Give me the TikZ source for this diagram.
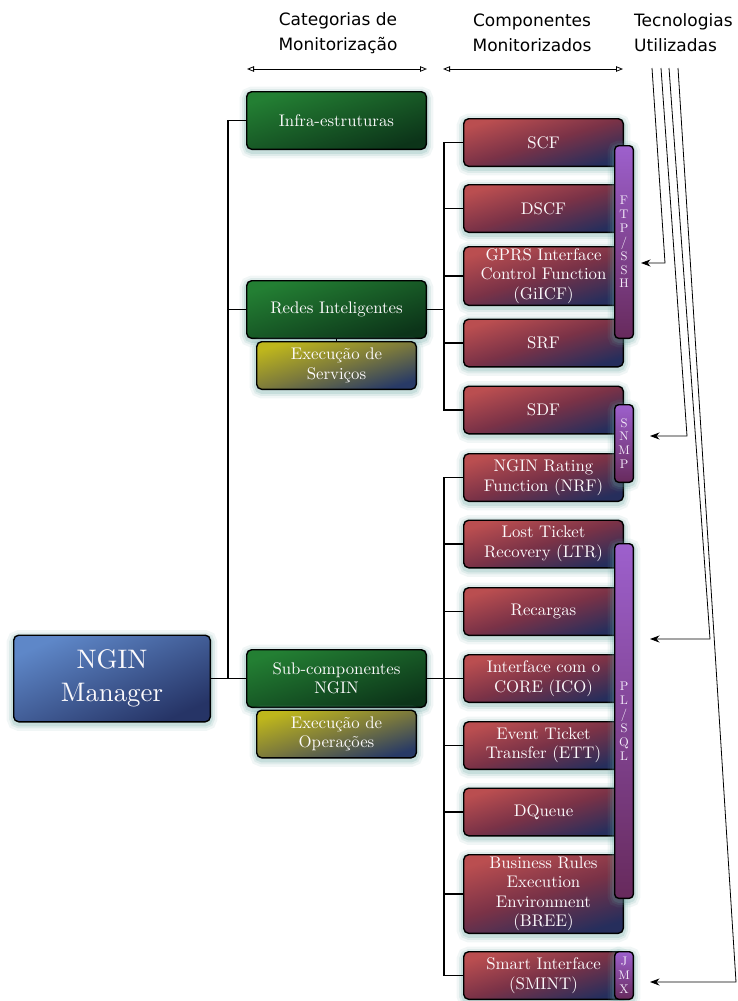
\documentclass[tikz,border=0pt]{standalone}
\usepackage{fontspec}
\newfontfamily\headfont{DejaVu Sans}
\newfontfamily\boxfont{lmroman10-regular.otf}
\usetikzlibrary{arrows.meta}

\definecolor{glow}{RGB}{95,160,156}
\definecolor{greenA}{RGB}{35,127,51}
\definecolor{greenB}{RGB}{12,52,25}
\definecolor{redA}{RGB}{186,78,80}
\definecolor{redM}{RGB}{122,50,71}
\definecolor{redB}{RGB}{38,46,92}
\definecolor{blueA}{RGB}{94,135,200}
\definecolor{blueB}{RGB}{38,52,102}
\definecolor{yelA}{RGB}{190,182,28}
\definecolor{yelM}{RGB}{124,122,60}
\definecolor{yelB}{RGB}{40,58,102}
\definecolor{purA}{RGB}{157,96,205}
\definecolor{purB}{RGB}{103,42,92}
\definecolor{boxtext}{RGB}{252,250,252}
\definecolor{bartext}{RGB}{244,236,250}

\begin{document}
\begin{tikzpicture}[x=1pt,y=-1pt,
  halo/.style={
    preaction={draw=glow, draw opacity=.09, line width=14pt, transform canvas={yshift=-2pt}},
    preaction={draw=glow, draw opacity=.13, line width=9pt, transform canvas={yshift=-2pt}},
    preaction={draw=glow, draw opacity=.18, line width=5pt, transform canvas={yshift=-2pt}}},
  box/.style={halo, draw=black, line width=1.4pt, rounded corners=5pt,
    text=boxtext, align=center, inner sep=0pt,
    font=\boxfont\fontsize{16.8}{19.5}\selectfont},
  catbox/.style={box, minimum width=179.6pt, minimum height=57.6pt,
    top color=greenA, bottom color=greenB, shading angle=18},
  actbox/.style={box, minimum width=159.6pt, minimum height=47.6pt,
    top color=yelA, bottom color=yelB, middle color=yelM, shading angle=17},
  compbox/.style={box, minimum width=159.6pt, minimum height=47.6pt,
    top color=redA, bottom color=redB, middle color=redM, shading angle=17},
  mgrbox/.style={box, minimum width=196.6pt, minimum height=86.6pt,
    top color=blueA, bottom color=blueB, shading angle=24,
    font=\boxfont\fontsize{26.8}{33}\selectfont},
  techbar/.style={box, minimum width=18.6pt, rounded corners=4pt,
    top color=purA, bottom color=purB, text=bartext,
    font=\boxfont\fontsize{12.5}{13.9}\selectfont},
  heading/.style={font=\headfont\fontsize{17}{25}\selectfont, inner sep=0pt},
  tree/.style={draw=black, line width=1.2pt},
  span/.style={draw=black, line width=0.8pt,
    {Triangle[open,length=7pt,width=5.5pt]}-{Triangle[open,length=7pt,width=5.5pt]}},
  techline/.style={draw=black, line width=0.8pt,
    -{Stealth[length=9.5pt,width=7pt]}}
]
\useasboundingbox (0,0) rectangle (737,1001);

% column headings
\node[heading, align=center] (hcat) at (338,33) {Categorias de\\Monitorização};
\node[heading, align=center] (hcomp) at (532,33) {Componentes\\Monitorizados};
\node[heading, align=left, anchor=west] (htec) at (634,33) {Tecnologias\\Utilizadas};
\coordinate (s1a) at (247,69);
\coordinate (s1b) at (427,69);
\coordinate (s2a) at (443,69);
\coordinate (s2b) at (623,69);
\draw[span] (s1a) -- (s1b);
\draw[span] (s2a) -- (s2b);

% root
\node[mgrbox] (mgr) at (112,678.5) {NGIN\\Manager};

% monitoring categories
\node[catbox] (infra) at (336.5,120.5) {Infra-estruturas};
\node[catbox] (redes) at (336.5,309.5) {Redes Inteligentes};
\node[actbox] (exserv) at (336.5,365.5) {Execução de\\Serviços};
\node[catbox] (sub) at (336.5,678.5) {Sub-componentes\\NGIN};
\node[actbox] (exop) at (336.5,734) {Execução de\\Operações};

% monitored components
\node[compbox] (scf) at (543.5,142.5) {SCF};
\node[compbox] (dscf) at (543.5,208.5) {DSCF};
\node[compbox, minimum height=58.6pt] (gicf) at (543.5,276) {GPRS Interface\\Control Function\\(GiICF)};
\node[compbox] (srf) at (543.5,343) {SRF};
\node[compbox] (sdf) at (543.5,410) {SDF};
\node[compbox] (nrf) at (543.5,477.5) {NGIN Rating\\Function (NRF)};
\node[compbox] (ltr) at (543.5,544) {Lost Ticket\\Recovery (LTR)};
\node[compbox] (rec) at (543.5,611.5) {Recargas};
\node[compbox] (ico) at (543.5,678.5) {Interface com o\\CORE (ICO)};
\node[compbox] (ett) at (543.5,745.5) {Event Ticket\\Transfer (ETT)};
\node[compbox] (dq) at (543.5,812) {DQueue};
\node[compbox, minimum height=78.6pt] (bree) at (543.5,894) {Business Rules\\Execution\\Environment\\(BREE)};
\node[compbox] (smint) at (543.5,975.5) {Smart Interface\\(SMINT)};

% technology bars
\node[techbar, minimum height=192.6pt] (ftp) at (624,242) {F\\T\\P\\/\\S\\S\\H};
\node[techbar, minimum height=77.6pt] (snmp) at (624,443.5) {S\\N\\M\\P};
\node[techbar, minimum height=354.6pt] (plsql) at (624,721) {P\\L\\/\\S\\Q\\L};
\node[techbar, minimum height=47.6pt] (jmx) at (624,975.5) {J\\M\\X};

% tree connectors
\draw[tree] (mgr.east) -- (sub.west);
\draw[tree] (infra.west) -- ++(-18,0) |- (sub.west);
\draw[tree] (redes.west) -- ++(-18,0);
\draw[tree] (redes.south) -- (exserv.north);
\draw[tree] (redes.east) -- ++(17,0);
\draw[tree] (sub.east) -- ++(17,0);
\draw[tree] (scf.west) -- ++(-19,0) |- (sdf.west);
\foreach \n in {dscf,gicf,srf}
  \draw[tree] (\n.west) -- ++(-19,0);
\draw[tree] (nrf.west) -- ++(-19,0) |- (smint.west);
\foreach \n in {ltr,rec,ico,ett,dq,bree}
  \draw[tree] (\n.west) -- ++(-19,0);

% technology pointers
\coordinate (t1) at (652,68);
\coordinate (t2) at (661,68);
\coordinate (t3) at (669,68);
\coordinate (t4) at (678,68);
\coordinate (k1) at (665,263);
\coordinate (k2) at (687,436);
\coordinate (k3) at (710,639);
\coordinate (k4) at (736,982);
\draw[techline, shorten >=7pt] (t1) -- (k1) -- (ftp.east |- k1);
\draw[techline, shorten >=16pt] (t2) -- (k2) -- (snmp.east |- k2);
\draw[techline, shorten >=16pt] (t3) -- (k3) -- (plsql.east |- k3);
\draw[techline, shorten >=16pt] (t4) -- (k4) -- (jmx.east |- k4);
\end{tikzpicture}
\end{document}
